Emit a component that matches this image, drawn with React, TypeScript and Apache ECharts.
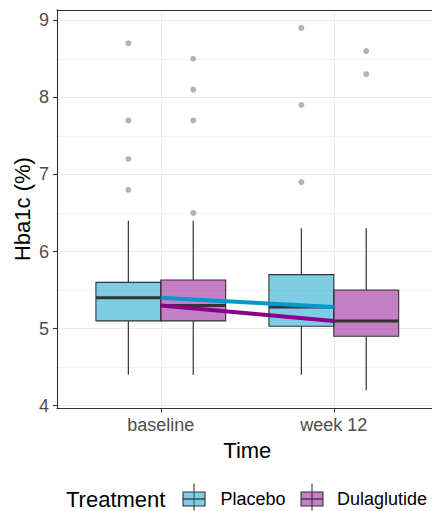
import React, { useEffect, useRef } from "react";
import * as echarts from "echarts";

// ---- data ----
const categories = ["baseline", "week 12"];
const treatments = ["Placebo", "Dulaglutide"];
// [min whisker, Q1, median, Q3, max whisker] per time point
const placeboBoxes = [
  [4.4, 5.1, 5.4, 5.6, 6.4],
  [4.4, 5.03, 5.28, 5.7, 6.3],
];
const dulaglutideBoxes = [
  [4.4, 5.1, 5.3, 5.63, 6.4],
  [4.2, 4.9, 5.1, 5.5, 6.3],
];
const placeboOutliers = [
  [6.8, 7.2, 7.7, 8.7],
  [6.9, 7.9, 8.9],
];
const dulaglutideOutliers = [
  [6.5, 7.7, 8.1, 8.5],
  [8.3, 8.6],
];
const placeboTrend = [5.4, 5.28];
const dulaglutideTrend = [5.3, 5.1];
const yTicks = [4, 5, 6, 7, 8, 9];
const yMinor = [4.5, 5.5, 6.5, 7.5, 8.5];

// ---- styling ----
const FONT = "Liberation Sans, Arial, Helvetica, sans-serif";
const LINE_COLORS = ["#0099CC", "#8B008B"];
const FILL_COLORS = ["rgba(0,153,204,0.5)", "rgba(139,0,139,0.5)"];
const DODGE = 0.1875;
const BOX_W = 0.375;
const BORDER = { color: "#333333", width: 1.1 };

function buildOption() {
  const boxData = (boxes: number[][], off: number) =>
    boxes.map((b, i) => [i + 1 + off, ...b]);
  const outData = (outs: number[][], off: number) =>
    outs.flatMap((vals, i) => vals.map((v) => [i + 1 + off, v]));
  const trendData = (vals: number[]) => vals.map((v, i) => [i + 1, v]);

  const renderBox = (fill: string) => (params: any, api: any) => {
    const x = api.value(0);
    const lo = api.coord([x, api.value(1)]);
    const q1 = api.coord([x, api.value(2)]);
    const md = api.coord([x, api.value(3)]);
    const q3 = api.coord([x, api.value(4)]);
    const hi = api.coord([x, api.value(5)]);
    const w = api.size([BOX_W, 0])[0];
    const cx = lo[0];
    return {
      type: "group",
      children: [
        { type: "line", shape: { x1: cx, y1: hi[1], x2: cx, y2: q3[1] }, style: { stroke: "#333333", lineWidth: 1.2 } },
        { type: "line", shape: { x1: cx, y1: q1[1], x2: cx, y2: lo[1] }, style: { stroke: "#333333", lineWidth: 1.2 } },
        {
          type: "rect",
          shape: { x: cx - w / 2, y: q3[1], width: w, height: q1[1] - q3[1] },
          style: { fill, stroke: "#333333", lineWidth: 1.1 },
        },
        { type: "line", shape: { x1: cx - w / 2, y1: md[1], x2: cx + w / 2, y2: md[1] }, style: { stroke: "#333333", lineWidth: 3 } },
      ],
    };
  };

  const legendKey = (cx: number, fill: string) => ({
    type: "group",
    children: [
      { type: "line", shape: { x1: cx, y1: 483.5, x2: cx, y2: 510.5 }, style: { stroke: "#333333", lineWidth: 1.1 } },
      { type: "rect", shape: { x: cx - 11, y: 492, width: 22, height: 14 }, style: { fill, stroke: "#333333", lineWidth: 1.1 } },
      { type: "line", shape: { x1: cx - 11, y1: 499, x2: cx + 11, y2: 499 }, style: { stroke: "#333333", lineWidth: 1.3 } },
    ],
  });

  return {
    animation: false,
    textStyle: { fontFamily: FONT },
    grid: {
      left: 57,
      top: 9.8,
      width: 380.6,
      height: 398.6,
      outerBoundsMode: "none",
      containLabel: false,
      show: false,
    },
    xAxis: [
      {
        type: "value",
        min: 0.4,
        max: 2.6,
        name: "Time",
        nameLocation: "middle",
        nameGap: 28,
        nameTextStyle: { fontSize: 22, color: "#000000", fontFamily: FONT },
        axisLine: { show: true, lineStyle: BORDER },
        axisTick: { show: true, length: 4, customValues: [1, 2], lineStyle: BORDER },
        axisLabel: {
          customValues: [1, 2],
          fontSize: 18,
          color: "#4D4D4D",
          fontFamily: FONT,
          margin: 8,
          formatter: (v: number) => categories[Math.round(v) - 1] ?? "",
        },
        splitLine: { show: true, lineStyle: { color: "#EBEBEB", width: 1.1 } },
      },
      {
        type: "value",
        min: 0.4,
        max: 2.6,
        position: "top",
        axisLine: { show: true, lineStyle: BORDER },
        axisTick: { show: false },
        axisLabel: { show: false },
        splitLine: { show: false },
      },
    ],
    yAxis: [
      {
        type: "value",
        min: 3.965,
        max: 9.135,
        name: "Hba1c (%)",
        nameLocation: "middle",
        nameGap: 24,
        nameMoveOverlap: false,
        nameTextStyle: { fontSize: 22, color: "#000000", fontFamily: FONT },
        axisLine: { show: true, lineStyle: BORDER },
        axisTick: { show: true, length: 4, customValues: yTicks, lineStyle: BORDER },
        axisLabel: { customValues: yTicks, fontSize: 18, color: "#4D4D4D", fontFamily: FONT, margin: 8 },
        splitLine: { show: true, lineStyle: { color: "#EBEBEB", width: 1.1 } },
      },
      {
        type: "value",
        min: 3.965,
        max: 9.135,
        position: "left",
        axisLine: { show: false },
        axisTick: { show: false, customValues: yMinor },
        axisLabel: { show: false, customValues: yMinor },
        splitLine: { show: true, lineStyle: { color: "#EBEBEB", width: 0.6 } },
      },
    ],
    series: [
      {
        name: "Placebo outliers",
        type: "scatter",
        data: outData(placeboOutliers, -DODGE),
        symbolSize: 6,
        itemStyle: { color: "#A0A0A0" },
        z: 2,
      },
      {
        name: "Dulaglutide outliers",
        type: "scatter",
        data: outData(dulaglutideOutliers, DODGE),
        symbolSize: 6,
        itemStyle: { color: "#A0A0A0" },
        z: 2,
      },
      {
        name: treatments[0],
        type: "custom",
        renderItem: renderBox(FILL_COLORS[0]),
        encode: { x: 0, y: [1, 2, 3, 4, 5] },
        data: boxData(placeboBoxes, -DODGE),
        z: 3,
      },
      {
        name: treatments[1],
        type: "custom",
        renderItem: renderBox(FILL_COLORS[1]),
        encode: { x: 0, y: [1, 2, 3, 4, 5] },
        data: boxData(dulaglutideBoxes, DODGE),
        z: 3,
      },
      {
        name: treatments[0] + " trend",
        type: "line",
        data: trendData(placeboTrend),
        symbol: "none",
        lineStyle: { color: LINE_COLORS[0], width: 4 },
        itemStyle: { color: LINE_COLORS[0] },
        z: 4,
      },
      {
        name: treatments[1] + " trend",
        type: "line",
        data: trendData(dulaglutideTrend),
        symbol: "none",
        lineStyle: { color: LINE_COLORS[1], width: 4 },
        itemStyle: { color: LINE_COLORS[1] },
        z: 4,
      },
    ],
    graphic: [
      {
        type: "text",
        x: 66,
        y: 499,
        style: { text: "Treatment", fontSize: 22, fill: "#000000", fontFamily: FONT, align: "left", verticalAlign: "middle" },
      },
      legendKey(194, FILL_COLORS[0]),
      {
        type: "text",
        x: 220.5,
        y: 499,
        style: { text: treatments[0], fontSize: 18, fill: "#000000", fontFamily: FONT, align: "left", verticalAlign: "middle" },
      },
      legendKey(312, FILL_COLORS[1]),
      {
        type: "text",
        x: 337,
        y: 499,
        style: { text: treatments[1], fontSize: 18, fill: "#000000", fontFamily: FONT, align: "left", verticalAlign: "middle" },
      },
    ],
  };
}

export default function App() {
  const ref = useRef<HTMLDivElement>(null);
  useEffect(() => {
    if (!ref.current) return;
    const chart = echarts.init(ref.current, undefined, { renderer: "svg" });
    chart.setOption(buildOption() as any);
    return () => chart.dispose();
  }, []);
  return (
    <div
      ref={ref}
      style={{ position: "absolute", left: 0, top: 0, width: 432, height: 511, background: "#FFFFFF" }}
    />
  );
}
